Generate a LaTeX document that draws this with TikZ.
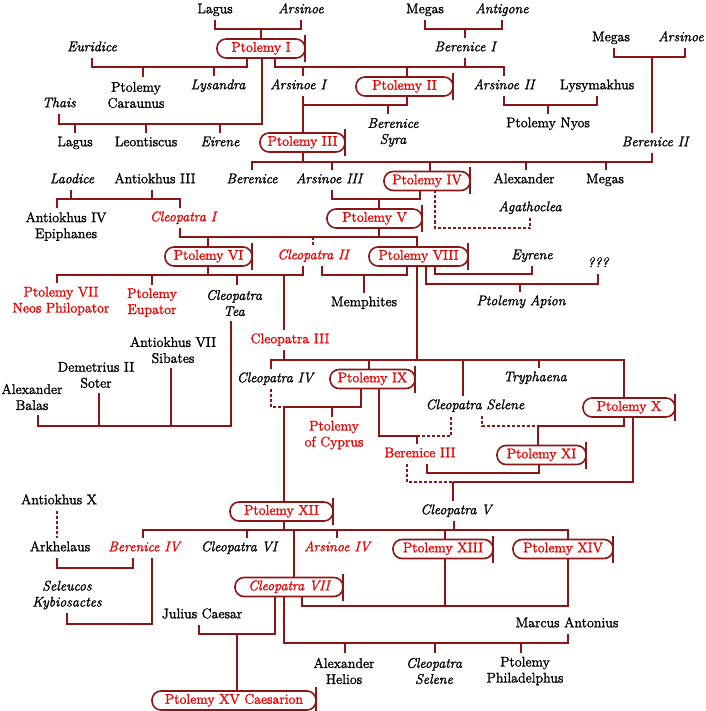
\documentclass[tikz,border=0pt]{standalone}
\usepackage{fontspec}
\setmainfont{Latin Modern Roman}[FakeBold=1.6]
\usepackage{tikz}
\definecolor{lc}{RGB}{140,22,22}
\definecolor{rd}{RGB}{240,0,0}
\newcommand{\nfs}{\fontsize{14}{16}\selectfont}
\tikzset{
 ln/.style={draw=lc, line width=1.8pt, line join=miter},
 dl/.style={ln, dash pattern=on 3pt off 2pt},
 tx/.style={inner sep=0pt, outer sep=0pt, font=\nfs, text height=9.5pt, text depth=3pt, minimum height=20pt},
 tt/.style={inner sep=0pt, outer sep=0pt, font=\nfs, align=center, minimum height=36pt},
 it/.style={font=\nfs\itshape},
 rt/.style={text=rd},
 bx/.style={draw=lc, line width=1.6pt, rounded corners=9pt, minimum height=19pt, inner sep=0pt, outer sep=0pt, text=rd, fill=white, font=\nfs, text height=9.5pt, text depth=3pt},
 bar/.style={draw=lc, line width=1.6pt},
}
\begin{document}
\begin{tikzpicture}[x=1pt, y=-1pt]
\useasboundingbox (0,0) rectangle (705,711);
% ---------- nodes ----------
\node[tx] (Lag1) at (215,10) {Lagus};
\node[tx,it] (Ars1) at (301,10) {Arsinoe};
\node[tx] (Meg1) at (425,10) {Megas};
\node[tx,it] (Ant1) at (502,10) {Antigone};
\node[bx,minimum width=88pt] (P1) at (261,48.5) {Ptolemy I};
\node[tx,it] (Eur) at (92,48) {Euridice};
\node[tx,it] (Ber1) at (465,48) {Berenice I};
\node[tx] (Meg2) at (611,38) {Megas};
\node[tx,it] (Ars2) at (681,38) {Arsinoe};
\node[tt] (Car) at (136,95) {Ptolemy\\Caraunus};
\node[tx,it] (Lys) at (218,86) {Lysandra};
\node[tx,it] (ArsI) at (298,86) {Arsinoe I};
\node[bx,minimum width=97pt] (P2) at (404.5,86.5) {Ptolemy II};
\node[tx,it] (ArsII) at (504,86) {Arsinoe II};
\node[tx] (Lysm) at (597,86) {Lysymakhus};
\node[tx,it] (Thai) at (59,104) {Thais};
\node[tx] (Lag2) at (75,143) {Lagus};
\node[tx] (Leo) at (146,143) {Leontiscus};
\node[tx,it] (Eir) at (220,143) {Eirene};
\node[bx,minimum width=85pt] (P3) at (302.5,142.5) {Ptolemy III};
\node[tt,it] (BSy) at (393,132.5) {Berenice\\Syra};
\node[tx] (Nyos) at (548,124) {Ptolemy Nyos};
\node[tx,it] (BerII) at (655,143) {Berenice II};
\node[tx,it] (Lao) at (72,180) {Laodice};
\node[tx] (AIII) at (155,180) {Antiokhus III};
\node[tx,it] (Ber) at (252,180) {Berenice};
\node[tx,it] (ArsIII) at (329,180) {Arsinoe III};
\node[bx,minimum width=86pt] (P4) at (427,181) {Ptolemy IV};
\node[tx] (Alex) at (524,180) {Alexander};
\node[tx] (Meg3) at (605,180) {Megas};
\node[tx,it] (Agat) at (530,208) {Agathoclea};
\node[tt] (AIV) at (66,226.5) {Antiokhus IV\\Epiphanes};
\node[tx,it,rt] (CI) at (183,218) {Cleopatra I};
\node[bx,minimum width=95pt] (P5) at (374.5,218.5) {Ptolemy V};
\node[bx,minimum width=87pt] (P6) at (208.5,256.5) {Ptolemy VI};
\node[tx,it,rt] (CII) at (313,256) {Cleopatra II};
\node[bx,minimum width=99pt] (P8) at (418.5,256.5) {Ptolemy VIII};
\node[tx,it] (Eyr) at (532,256) {Eyrene};
\node[tx,it] (Q) at (598,264) {???};
\node[tt,rt] (PVII) at (61,301) {Ptolemy VII\\Neos Philopator};
\node[tt,rt] (Eup) at (152,302.5) {Ptolemy\\Eupator};
\node[tt,it] (Tea) at (234,303) {Cleopatra\\Tea};
\node[tx] (Mem) at (364,303) {Memphites};
\node[tx,it] (Apion) at (521,302) {Ptolemy Apion};
\node[tx,rt] (CIII) at (290,340) {Cleopatra III};
\node[tt] (AVII) at (173,350) {Antiokhus VII\\Sibates};
\node[tt] (DII) at (96,375) {Demetrius II\\Soter};
\node[tt] (ABal) at (32,397) {Alexander\\Balas};
\node[tx,it] (CIV) at (275,379) {Cleopatra IV};
\node[bx,minimum width=85pt] (P9) at (372.5,379) {Ptolemy IX};
\node[tx,it] (Try) at (535,378) {Tryphaena};
\node[tx,it] (CSel) at (475,406) {Cleopatra Selene};
\node[bx,minimum width=92pt] (P10) at (629,407.5) {Ptolemy X};
\node[tt,rt] (Cyp) at (334,435) {Ptolemy\\of Cyprus};
\node[tx,rt] (BIII) at (420,454) {Berenice III};
\node[bx,minimum width=89pt] (P11) at (541.5,455) {Ptolemy XI};
\node[tx] (AX) at (59,501) {Antiokhus X};
\node[bx,minimum width=103pt] (P12) at (281.5,511.5) {Ptolemy XII};
\node[tx,it] (CV) at (456,511) {Cleopatra V};
\node[tx] (Ark) at (60,548) {Arkhelaus};
\node[tx,it,rt] (BIV) at (144,548) {Berenice IV};
\node[tx,it] (CVI) at (239,548) {Cleopatra VI};
\node[tx,it,rt] (AIVr) at (337,548) {Arsinoe IV};
\node[bx,minimum width=100pt] (P13) at (443,549) {Ptolemy XIII};
\node[bx,minimum width=100pt] (P14) at (563,549) {Ptolemy XIV};
\node[bx,it,minimum width=108pt] (C7) at (289,587) {Cleopatra VII};
\node[tt,it] (Sel) at (67,595) {Seleucos\\Kybiosactes};
\node[tx] (JC) at (202,615) {Julius Caesar};
\node[tx] (MA) at (567,624) {Marcus Antonius};
\node[tt] (AH) at (344,671) {Alexander\\Helios};
\node[tt,it] (CS2) at (434,671) {Cleopatra\\Selene};
\node[tt] (PPh) at (525,671) {Ptolemy\\Philadelphus};
\node[bx,minimum width=164pt] (P15) at (234,700.5) {Ptolemy XV Caesarion};
\foreach \b in {P1,P2,P3,P4,P5,P6,P8,P9,P10,P11,P12,P13,P14,C7,P15}
  \draw[bar] ([yshift=4pt]\b.north east) -- ([yshift=-4pt]\b.south east);
% ---------- connectors ----------
% Lagus + Arsinoe -> Ptolemy I
\draw[ln] (Lag1.south) -- (Lag1.south |- 0,29) -| (Ars1.south);
\draw[ln] (P1.north) -- (P1.north |- 0,29);
% Megas + Antigone -> Berenice I
\draw[ln] (Meg1.south) -- (Meg1.south |- 0,29) -| (Ant1.south);
\draw[ln] (Ber1.north) -- (Ber1.north |- 0,29);
% Ptolemy I + Euridice
\draw[ln] (Eur.south) -- (Eur.south |- 0,67) -- (247,67) -- (247,0 |- P1.south);
\draw[ln] (143,67) -- (143,0 |- Car.north);
\draw[ln] (214,67) -- (214,0 |- Lys.north);
% Ptolemy I + Thais
\draw[ln] (Thai.south) -- (Thai.south |- 0,124) -- (262,124) -- (262,0 |- P1.south);
\draw[ln] (Lag2.north) -- (Lag2.north |- 0,124);
\draw[ln] (Leo.north) -- (Leo.north |- 0,124);
\draw[ln] (Eir.north) -- (Eir.north |- 0,124);
% Ptolemy I + Berenice I
\draw[ln] (275,0 |- P1.south) -- (275,67) -| (ArsII.north);
\draw[ln] (Ber1.south) -- (Ber1.south |- 0,67);
\draw[ln] (303,67) -- (303,0 |- ArsI.north);
\draw[ln] (407,67) -- (407,0 |- P2.north);
% Arsinoe I + Ptolemy II
\draw[ln] (303,0 |- ArsI.south) -- (303,0 |- P3.north);
\draw[ln] (303,105) -- (407,105) -- (407,0 |- P2.south);
\draw[ln] (388,105) -- (388,0 |- BSy.north);
% Arsinoe II + Lysymakhus
\draw[ln] (ArsII.south) |- (Lysm.south |- 0,105) -- (Lysm.south);
\draw[ln] (Nyos.north) -- (Nyos.north |- 0,105);
% Megas + Arsinoe -> Berenice II
\draw[ln] (614,0 |- Meg2.south) -- (614,57) -- (685,57) -- (685,0 |- Ars2.south);
\draw[ln] (652,57) -- (652,0 |- BerII.north);
% Ptolemy III + Berenice II
\draw[ln] (303,0 |- P3.south) -- (303,162);
\draw[ln] (652,0 |- BerII.south) -- (652,162) -| (Ber.north);
\draw[ln] (332,162) -- (332,0 |- ArsIII.north);
\draw[ln] (430,162) -- (430,0 |- P4.north);
\draw[ln] (526,162) -- (526,0 |- Alex.north);
\draw[ln] (606,162) -- (606,0 |- Meg3.north);
% Arsinoe III + Ptolemy IV
\draw[ln] (332,0 |- ArsIII.south) -- (332,199) -- (420,199) -- (420,0 |- P4.south);
\draw[ln] (379,199) -- (379,0 |- P5.north);
% Ptolemy IV - - Agathoclea
\draw[dl] (435,0 |- P4.south) -- (435,228) -| (Agat.south);
% Laodice + Antiokhus III
\draw[ln] (71,0 |- Lao.south) -- (71,199);
\draw[ln] (152,0 |- AIII.south) -- (152,199);
\draw[ln] (57,0 |- AIV.north) -- (57,199) -- (180,199) -- (180,0 |- CI.north);
% Cleopatra I + Ptolemy V
\draw[ln] (180,0 |- CI.south) -- (180,237) -- (417,237) -- (417,0 |- P8.north);
\draw[ln] (379,0 |- P5.south) -- (379,237);
\draw[ln] (208,237) -- (208,0 |- P6.north);
\draw[dl] (313,237) -- (CII.north);
% Ptolemy VI + Cleopatra II
\draw[ln] (208,0 |- P6.south) -- (208,275);
\draw[ln] (303,0 |- CII.south) -- (303,275) -- (57,275) -- (57,0 |- PVII.north);
\draw[ln] (152,275) -- (152,0 |- Eup.north);
\draw[ln] (237,275) -- (237,0 |- Tea.north);
\draw[ln] (284,275) -- (284,0 |- CIII.north);
% Cleopatra II + Ptolemy VIII
\draw[ln] (322,0 |- CII.south) -- (322,275) -- (407,275) -- (407,0 |- P8.south);
\draw[ln] (364,275) -- (Mem.north);
% Ptolemy VIII + Eyrene
\draw[ln] (435,0 |- P8.south) -- (435,274) -| (Eyr.south);
% Ptolemy VIII + ??? -> Ptolemy Apion
\draw[ln] (426,0 |- P8.south) -- (426,284) -| (Q.south);
\draw[ln] (520,284) -- (520,0 |- Apion.north);
% Cleopatra Tea + husbands
\draw[ln] (231,0 |- Tea.south) -- (231,426) -- (38,426) -- (38,0 |- ABal.south);
\draw[ln] (99,426) -- (99,0 |- DII.south);
\draw[ln] (171,426) -- (171,0 |- AVII.south);
% Ptolemy VIII + Cleopatra III
\draw[ln] (284,0 |- CIII.south) -- (284,360);
\draw[ln] (417,0 |- P8.south) -- (417,360);
\draw[ln] (271,0 |- CIV.north) -- (271,360) -- (624,360) -- (624,0 |- P10.north);
\draw[ln] (369,360) -- (369,0 |- P9.north);
\draw[ln] (463,360) -- (463,0 |- CSel.north);
\draw[ln] (539,360) -- (539,0 |- Try.north);
% Cleopatra IV + Ptolemy IX
\draw[dl] (271,0 |- CIV.south) -- (271,407) -- (284,407);
\draw[ln] (284,407) -- (361,407) -- (361,0 |- P9.south);
\draw[ln] (284,407) -- (284,0 |- P12.north);
\draw[ln] (332,407) -- (332,0 |- Cyp.north);
% Ptolemy IX + Cleopatra Selene
\draw[ln] (379,0 |- P9.south) -- (379,436) -- (417,436);
\draw[dl] (417,436) -- (451,436) -- (451,0 |- CSel.south);
\draw[ln] (417,436) -- (417,0 |- BIII.north);
% Cleopatra Selene + Ptolemy X
\draw[dl] (482,0 |- CSel.south) -- (482,426) -- (538,426);
\draw[ln] (538,426) -- (624,426) -- (624,0 |- P10.south);
\draw[ln] (538,426) -- (538,0 |- P11.north);
% Berenice III + Ptolemy XI
\draw[ln] (427,0 |- BIII.south) -- (427,473) -- (539,473) -- (539,0 |- P11.south);
% Berenice III + Ptolemy X -> Cleopatra V
\draw[dl] (407,0 |- BIII.south) -- (407,482) -- (453,482);
\draw[ln] (453,482) -- (633,482) -- (633,0 |- P10.south);
\draw[ln] (453,482) -- (453,0 |- CV.north);
% Ptolemy XII + Cleopatra V
\draw[ln] (284,0 |- P12.south) -- (284,530);
\draw[ln] (454,0 |- CV.south) -- (454,530);
\draw[ln] (143,0 |- BIV.north) -- (143,530) -- (568,530) -- (568,0 |- P14.north);
\draw[ln] (247,530) -- (247,0 |- CVI.north);
\draw[ln] (294,530) -- (294,0 |- C7.north);
\draw[ln] (337,530) -- (337,0 |- AIVr.north);
\draw[ln] (445,530) -- (445,0 |- P13.north);
% Antiokhus X - - Arkhelaus
\draw[dl] (57,0 |- AX.south) -- (57,0 |- Ark.north);
% Arkhelaus + Berenice IV
\draw[ln] (57,0 |- Ark.south) -- (57,568) -- (133,568) -- (133,0 |- BIV.south);
% Berenice IV + Seleucos
\draw[ln] (152,0 |- BIV.south) -- (152,624) -- (67,624) -- (67,0 |- Sel.south);
% Cleopatra VII + Julius Caesar
\draw[ln] (275,0 |- C7.south) -- (275,634) -- (199,634) -- (199,0 |- JC.south);
\draw[ln] (237,634) -- (237,0 |- P15.north);
% Cleopatra VII + Marcus Antonius
\draw[ln] (284,0 |- C7.south) -- (284,643) -- (568,643) -- (568,0 |- MA.south);
\draw[ln] (345,643) -- (345,0 |- AH.north);
\draw[ln] (435,643) -- (435,0 |- CS2.north);
\draw[ln] (521,643) -- (521,0 |- PPh.north);
% Cleopatra VII + Ptolemy XIII, XIV
\draw[ln] (302,0 |- C7.south) -- (302,606) -- (568,606) -- (568,0 |- P14.south);
\draw[ln] (445,606) -- (445,0 |- P13.south);
\end{tikzpicture}
\end{document}
